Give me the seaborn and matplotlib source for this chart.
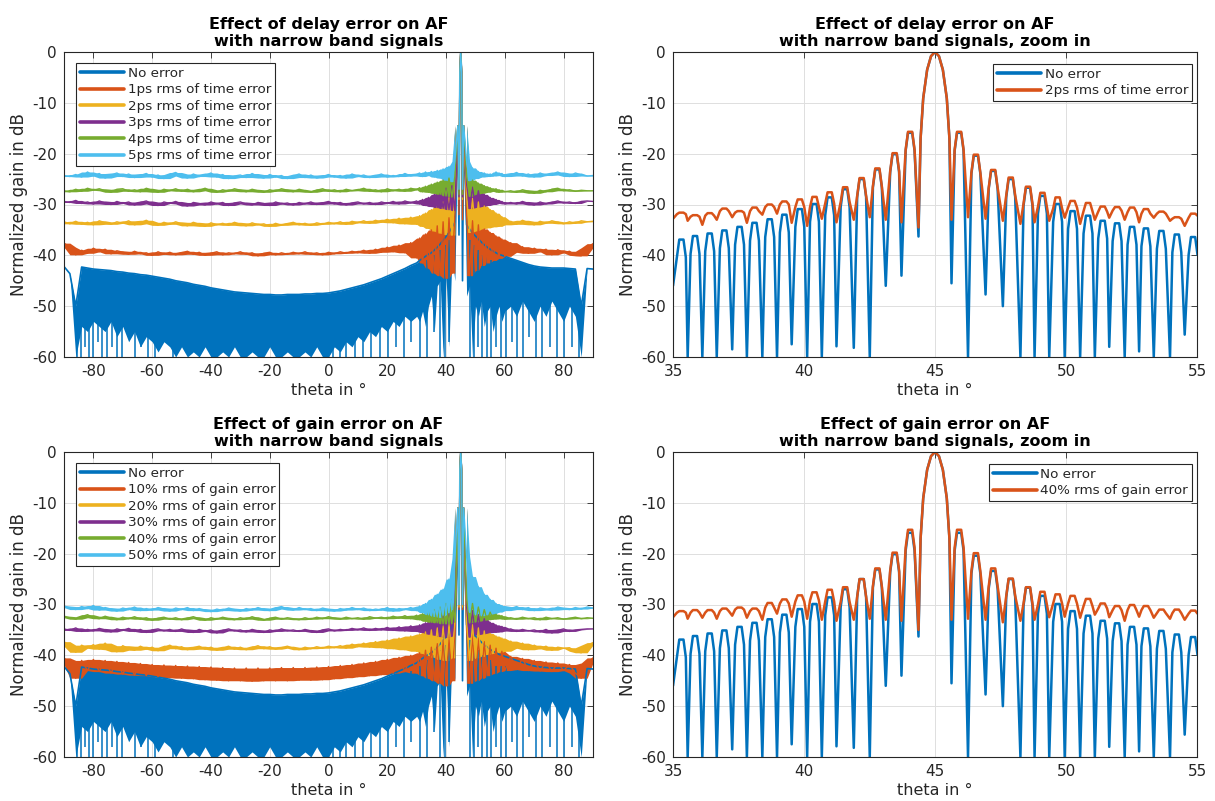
import matplotlib
matplotlib.use("Agg")
import matplotlib.pyplot as plt
import numpy as np
import pandas as pd
import seaborn as sns
from matplotlib.lines import Line2D

# ------------------------------------------------------------------ data
# sample angles of the full-range plots (deg)
theta_full = ([float(t) for t in range(-90, 30, 2)] + [float(t) for t in range(30, 44)]
              + [44.0, 44.4, 44.7, 45.0, 45.3, 45.6, 46.0]
              + [float(t) for t in range(47, 61)] + [float(t) for t in range(62, 91, 2)])

# "No error" pattern (full range): upper envelope and lower edge of the dense lobes
blue_full_hi = [
    -42.2, -43.6, -50.0, -42.3, -42.5, -42.7, -42.8, -42.9, -43.0, -43.2,
    -43.3, -43.5, -43.6, -43.8, -43.9, -44.1, -44.3, -44.5, -44.7, -45.0,
    -45.2, -45.4, -45.7, -45.9, -46.1, -46.4, -46.6, -46.8, -47.0, -47.2,
    -47.3, -47.4, -47.5, -47.6, -47.7, -47.7, -47.8, -47.8, -47.7, -47.7,
    -47.7, -47.6, -47.6, -47.5, -47.5, -47.4, -47.2, -47.0, -46.7, -46.4,
    -46.1, -45.8, -45.4, -45.0, -44.6, -44.1, -43.6, -43.1, -42.6, -42.0,
    -41.5, -41.0, -40.6, -40.2, -39.8, -39.5, -39.0, -38.4, -37.8, -37.0, -36.3, -35.5, -34.5, -33.5,
    -15.0, -36.0, -4.0, 0.0, -4.0, -45.0, -15.0,
    -34.0, -34.8, -35.6, -36.2, -36.8, -37.4, -37.9, -38.4, -38.8, -39.2, -39.5, -39.8, -40.0, -40.2,
    -40.6, -41.0, -41.4, -41.8, -42.1, -42.3, -42.4, -42.5, -42.5, -42.5, -42.6, -42.7, -50.0, -42.6, -42.7]
blue_full_lo = [
    -42.2, -43.6, -60, -54, -55, -53, -54, -55, -53, -56,
    -54, -57, -55, -58, -56, -57, -59, -57, -58, -60,
    -58, -60, -59, -60, -58, -60, -60, -59, -60, -58,
    -60, -60, -59, -60, -60, -58, -60, -60, -59, -60,
    -60, -59, -60, -58, -60, -60, -58, -59, -57, -58,
    -56, -57, -55, -56, -54, -55, -53, -54, -52, -53,
    -52, -53, -51, -54, -50, -48, -55, -46, -45, -60, -44, -58, -40, -45,
    -15.0, -36.0, -4.0, 0.0, -4.0, -45.0, -15.0,
    -48, -46, -60, -50, -52, -49, -54, -51, -50, -55, -52, -50, -53, -51,
    -50, -52, -49, -51, -53, -50, -52, -49, -51, -53, -50, -52, -60, -42.6, -42.7]
# deep nulls of the "No error" pattern visible in the full-range plots
spike_theta = [-85.7, -84.1, -82.9, -81.6, -80.2, -78.6, -77.1, -75.4, -73.8, -72.0, -70.2, -68.1,
               -66.0, -63.7, -61.4, -58.9, -56.0, -53.0,
               1.5, 3.8, 6.1, 8.9, 11.8, 14.6, 17.5, 20.3, 22.9, 25.6, 28.1, 31.0, 33.5, 36.0, 37.8,
               39.6, 41.1,
               48.3, 49.6, 50.9, 52.3, 53.8, 55.4, 57.0, 58.7, 60.5, 62.3, 64.2, 66.2, 68.3, 70.5,
               72.8, 75.2, 77.7, 80.3, 82.8, 85.3]
spike_top = [-50, -47, -47, -47, -47, -47, -48, -48, -48, -48, -48, -48,
             -49, -49, -49, -49, -50, -50,
             -50, -50, -50, -50, -49, -48, -47, -46, -45, -44, -43, -42, -41, -40, -39,
             -38, -37,
             -37, -38, -39, -40, -40, -41, -42, -42, -42, -43, -43, -44, -44, -44,
             -44, -44, -44, -44, -44, -50]
spike_bot = [-60, -60, -58, -60, -60, -57, -60, -60, -58, -60, -60, -56,
             -60, -58, -60, -60, -57, -60,
             -60, -60, -60, -60, -60, -60, -60, -60, -58, -60, -57, -60, -60, -55, -60,
             -60, -57,
             -60, -60, -58, -60, -60, -60, -58, -60, -60, -57, -60, -60, -56, -60,
             -60, -58, -60, -60, -58, -60]

# delay-error curves (full range)
delay_1ps = [
    -37.6, -38.4, -39.9, -39.0, -39.6, -38.6, -39.3, -38.8, -39.7, -39.1,
    -39.4, -39.8, -39.2, -39.7, -39.5, -40.0, -39.3, -39.8, -39.4, -39.9,
    -39.5, -39.2, -39.8, -39.4, -40.0, -39.6, -39.3, -39.9, -39.5, -39.7,
    -39.3, -39.8, -39.5, -40.1, -39.6, -39.4, -39.9, -39.5, -39.8, -39.4,
    -39.7, -39.3, -39.8, -39.5, -39.9, -39.4, -39.7, -39.3, -39.6, -39.2,
    -39.5, -39.0, -39.6, -38.8, -39.4, -38.4, -39.3, -38.0, -39.5, -37.5,
    -40.5, -36.6, -41.5, -35.8, -42.5, -35.0, -43.5, -34.2, -44.0, -33.4, -44.5, -32.6, -43.5, -32.0,
    -14.5, -32.0, -4.0, 0.0, -4.0, -33.0, -14.5,
    -32.2, -44.0, -33.2, -43.0, -34.0, -42.0, -34.8, -41.5, -35.5, -41.0, -36.2, -40.6, -36.8, -40.2,
    -37.5, -39.4, -38.3, -39.6, -38.6, -39.3, -38.8, -39.9, -38.9, -39.5, -39.2, -40.0, -40.1, -38.5, -37.7]
delay_2ps = [
    -33.4, -33.8, -33.3, -33.9, -33.5, -34.0, -33.2, -33.6, -33.9, -33.4,
    -33.7, -33.2, -34.0, -33.6, -33.1, -33.8, -34.1, -33.5, -33.9, -33.4,
    -33.8, -34.2, -33.5, -33.9, -34.3, -33.6, -34.0, -33.7, -34.1, -33.5,
    -33.9, -34.2, -33.6, -34.0, -33.8, -34.3, -33.7, -34.1, -33.8, -33.5,
    -34.0, -33.7, -34.1, -33.6, -33.9, -33.5, -33.8, -33.4, -33.9, -33.3,
    -33.6, -33.2, -33.7, -33.1, -33.5, -32.9, -33.6, -32.7, -33.8, -32.5,
    -33.9, -32.2, -34.3, -31.7, -34.7, -31.0, -35.2, -30.3, -35.6, -29.5, -35.9, -28.7, -36.0, -28.3,
    -14.5, -29.0, -4.0, 0.0, -4.0, -29.0, -14.5,
    -28.2, -35.5, -28.8, -35.2, -29.5, -34.8, -30.3, -34.6, -31.0, -34.4, -31.7, -34.3, -32.4, -34.0,
    -33.3, -33.9, -33.1, -33.6, -34.0, -33.3, -33.7, -33.2, -33.5, -33.8, -33.4, -33.7, -33.2, -33.4, -33.3]
delay_3ps = [
    -29.4, -29.6, -29.2, -29.8, -29.5, -29.9, -29.3, -29.7, -30.0, -29.4,
    -29.8, -29.5, -30.1, -29.6, -29.3, -29.9, -30.2, -29.5, -29.8, -29.4,
    -29.9, -30.3, -29.6, -29.8, -30.1, -29.5, -29.9, -29.6, -30.2, -29.7,
    -29.5, -29.9, -30.1, -29.6, -29.8, -30.2, -29.5, -29.9, -29.7, -30.1,
    -29.6, -29.9, -29.5, -30.0, -29.7, -29.4, -29.9, -29.6, -30.1, -29.7,
    -29.5, -29.9, -29.6, -30.0, -29.5, -29.8, -29.4, -29.9, -29.3, -29.7,
    -29.3, -29.9, -29.0, -30.2, -28.6, -30.4, -28.0, -30.6, -27.4, -30.8, -26.8, -31.0, -26.3, -31.2,
    -14.5, -28.5, -4.0, 0.0, -4.0, -28.5, -14.5,
    -26.0, -30.8, -26.6, -30.6, -27.3, -30.4, -28.0, -30.2, -28.6, -30.0, -29.0, -29.8, -29.4, -29.9,
    -29.6, -29.9, -29.4, -29.8, -30.1, -29.5, -29.9, -29.6, -29.3, -29.7, -29.5, -29.8, -29.4, -29.3, -29.4]
delay_4ps = [
    -27.3, -27.5, -27.0, -27.4, -26.8, -27.2, -26.9, -27.3, -27.6, -27.0,
    -26.9, -27.4, -27.1, -27.5, -26.8, -27.2, -27.6, -27.0, -27.3, -26.9,
    -27.4, -27.0, -27.5, -27.2, -26.8, -27.3, -27.6, -27.1, -27.4, -26.9,
    -27.2, -27.5, -27.0, -27.3, -27.6, -27.1, -27.4, -26.9, -27.2, -27.5,
    -27.0, -27.3, -27.6, -27.2, -26.9, -27.4, -27.1, -27.5, -27.0, -27.3,
    -27.2, -26.8, -27.4, -27.1, -27.5, -26.9, -27.3, -27.0, -27.4, -26.8,
    -27.1, -26.7, -27.5, -26.4, -27.6, -26.0, -27.8, -25.6, -28.0, -25.2, -28.3, -24.8, -28.5, -24.5,
    -14.5, -28.0, -4.0, 0.0, -4.0, -28.0, -14.5,
    -24.5, -28.4, -25.2, -28.0, -25.8, -27.8, -26.3, -27.6, -26.7, -27.4, -26.9, -27.6, -27.2, -27.5,
    -27.3, -27.6, -27.1, -27.4, -27.8, -27.2, -27.5, -27.0, -26.8, -27.3, -27.1, -27.4, -27.2, -27.3, -27.3]
delay_5ps = [
    -24.3, -24.5, -24.1, -24.6, -23.6, -24.4, -23.9, -24.8, -24.2, -23.8,
    -24.5, -24.0, -24.7, -24.3, -23.9, -24.6, -24.2, -24.9, -24.1, -23.7,
    -24.4, -24.8, -24.0, -24.5, -24.3, -23.8, -24.6, -24.1, -24.9, -24.4,
    -24.2, -24.7, -23.9, -24.5, -24.8, -24.1, -24.6, -24.3, -24.9, -24.4,
    -24.0, -24.7, -24.2, -24.8, -24.5, -24.1, -24.6, -24.3, -24.8, -24.0,
    -24.5, -24.2, -24.7, -24.4, -24.0, -24.6, -24.3, -24.5, -23.9, -24.4,
    -24.1, -23.8, -24.5, -23.6, -24.3, -23.5, -24.6, -23.3, -24.8, -23.0, -25.2, -22.5, -25.5, -21.5,
    -14.5, -27.0, -4.0, 0.0, -4.0, -27.0, -14.5,
    -21.5, -25.3, -22.8, -24.9, -23.5, -24.6, -23.8, -24.5, -24.0, -24.4, -23.6, -24.3, -23.9, -24.5,
    -24.2, -23.7, -24.4, -24.0, -24.6, -23.8, -24.3, -24.1, -23.6, -24.2, -24.5, -23.8, -24.2, -24.4, -24.3]

# gain-error curves (full range)
gain_10 = [
    -40.5, -41.8, -44.5, -41.0, -43.0, -40.8, -43.2, -41.0, -43.5, -41.2,
    -43.7, -41.4, -43.9, -41.6, -44.0, -41.8, -44.2, -41.9, -44.4, -42.0,
    -44.5, -42.1, -44.6, -42.2, -44.8, -42.3, -44.9, -42.4, -45.0, -42.5,
    -45.0, -42.5, -45.1, -42.5, -45.0, -42.5, -45.0, -42.4, -45.0, -42.4,
    -44.9, -42.4, -44.9, -42.3, -44.8, -42.2, -44.6, -42.0, -44.4, -41.8,
    -44.2, -41.5, -44.0, -41.2, -43.8, -40.8, -43.5, -40.4, -43.2, -40.0,
    -43.5, -39.5, -44.0, -39.0, -44.5, -38.4, -45.0, -37.7, -45.5, -37.0, -46.0, -36.2, -45.0, -35.5,
    -11.0, -31.0, -3.5, 0.0, -3.5, -31.0, -11.0,
    -35.0, -45.5, -35.8, -45.0, -36.6, -44.5, -37.3, -44.0, -38.0, -43.6, -38.6, -43.2, -39.2, -43.0,
    -40.2, -42.8, -40.6, -43.0, -41.0, -43.1, -41.3, -43.2, -41.5, -43.0, -41.8, -43.5, -44.5, -41.5, -40.5]
gain_20 = [
    -37.3, -38.2, -39.4, -38.0, -38.6, -37.9, -38.8, -37.6, -38.9, -39.3,
    -38.1, -38.7, -39.0, -38.2, -38.8, -38.4, -39.1, -38.5, -38.0, -38.7,
    -38.3, -38.9, -38.5, -38.2, -38.8, -38.4, -39.0, -38.6, -38.2, -38.8,
    -38.4, -38.9, -38.5, -38.1, -38.7, -38.3, -38.8, -38.5, -38.2, -38.6,
    -38.9, -38.4, -38.7, -38.3, -38.6, -38.2, -38.5, -38.1, -38.6, -37.8,
    -38.3, -37.6, -38.4, -37.3, -38.5, -37.0, -38.7, -36.6, -38.9, -36.2,
    -39.2, -35.8, -39.6, -35.4, -40.0, -35.0, -40.4, -34.6, -40.8, -34.2, -41.0, -33.8, -40.5, -33.3,
    -11.0, -30.5, -3.5, 0.0, -3.5, -30.5, -11.0,
    -33.5, -41.0, -34.0, -40.5, -34.6, -40.2, -35.2, -39.8, -35.7, -39.6, -36.2, -39.4, -36.6, -39.2,
    -37.2, -38.6, -37.6, -38.9, -38.0, -38.7, -38.2, -39.0, -38.4, -38.6, -38.5, -39.2, -39.5, -38.0, -37.5]
gain_30 = [
    -34.8, -35.1, -34.6, -35.3, -34.9, -35.2, -34.7, -35.0, -35.4, -34.8,
    -35.1, -34.7, -35.3, -34.9, -35.5, -35.0, -34.8, -35.2, -34.9, -35.3,
    -34.8, -35.2, -35.5, -34.9, -35.3, -35.0, -35.6, -35.1, -34.8, -35.2,
    -35.0, -35.4, -34.9, -35.2, -35.5, -35.0, -35.3, -34.8, -35.2, -35.0,
    -35.3, -34.9, -35.2, -35.5, -35.0, -34.8, -35.2, -34.9, -35.1, -34.7,
    -35.0, -34.6, -35.1, -34.7, -35.0, -34.5, -35.1, -34.4, -35.2, -34.2,
    -35.3, -34.0, -35.5, -33.6, -35.8, -33.2, -36.0, -32.8, -36.3, -32.3, -36.5, -31.8, -36.2, -31.0,
    -11.0, -30.0, -3.5, 0.0, -3.5, -30.0, -11.0,
    -30.5, -36.4, -31.2, -36.0, -32.0, -35.8, -32.8, -35.6, -33.5, -35.5, -34.0, -35.4, -34.3, -35.2,
    -34.8, -35.3, -34.9, -35.2, -35.0, -35.4, -34.9, -35.6, -35.1, -34.8, -35.3, -35.0, -34.9, -34.8, -34.8]
gain_40 = [
    -32.3, -32.6, -32.9, -32.4, -32.0, -32.6, -32.8, -32.3, -32.7, -33.0,
    -32.5, -32.8, -32.4, -32.9, -32.6, -33.1, -32.7, -32.5, -32.9, -32.6,
    -33.0, -32.7, -32.4, -32.8, -33.1, -32.6, -32.9, -32.5, -32.8, -33.0,
    -32.6, -32.9, -32.4, -32.8, -33.1, -32.7, -32.5, -32.9, -32.6, -32.8,
    -33.0, -32.6, -32.9, -32.5, -32.8, -32.4, -32.7, -32.9, -32.5, -32.8,
    -32.6, -32.9, -32.4, -32.7, -32.5, -32.8, -32.3, -32.7, -32.2, -32.8,
    -32.1, -33.0, -31.8, -33.3, -31.5, -33.5, -31.0, -33.6, -30.5, -33.8, -29.8, -33.8, -29.0, -33.5,
    -11.0, -30.0, -3.5, 0.0, -3.5, -30.0, -11.0,
    -29.0, -33.6, -29.8, -33.4, -30.5, -33.2, -31.0, -33.0, -31.5, -32.9, -31.9, -32.8, -32.2, -32.9,
    -32.6, -32.9, -32.5, -32.8, -32.6, -33.0, -32.5, -32.8, -32.6, -32.9, -32.7, -32.5, -32.8, -32.6, -32.7]
gain_50 = [
    -30.3, -30.6, -31.0, -30.4, -30.8, -30.2, -31.1, -30.6, -30.9, -31.3,
    -30.7, -31.0, -30.5, -31.2, -30.8, -31.1, -30.6, -30.9, -31.3, -30.7,
    -31.0, -30.6, -31.2, -30.8, -31.1, -31.4, -30.9, -31.2, -30.7, -31.0,
    -31.3, -30.8, -31.1, -30.6, -31.0, -31.2, -30.7, -30.4, -30.9, -31.1,
    -30.6, -31.0, -30.8, -31.2, -30.7, -31.0, -31.3, -30.8, -31.1, -30.6,
    -31.0, -30.7, -31.2, -30.9, -31.1, -30.6, -31.3, -30.8, -31.0, -30.6,
    -31.2, -30.3, -31.6, -29.8, -32.0, -29.0, -32.3, -28.0, -32.5, -27.0, -32.0, -25.0, -31.0, -21.0,
    -11.0, -30.0, -3.5, 0.0, -3.5, -30.0, -11.0,
    -20.5, -31.5, -24.5, -32.0, -26.5, -32.2, -28.0, -32.0, -29.0, -31.8, -29.8, -31.5, -30.2, -31.2,
    -30.8, -30.4, -31.0, -30.6, -31.2, -30.7, -30.9, -31.1, -30.5, -30.8, -31.0, -30.6, -30.9, -30.5, -30.7]

# zoom-in plots: sample angles (per lobe: null, two shoulders each side of the peak)
theta_zoom = [
    35.00, 35.15, 35.24, 35.40, 35.49,  35.56, 35.67, 35.76, 35.92, 36.01,
    36.12, 36.23, 36.32, 36.48, 36.57,  36.67, 36.79, 36.88, 37.04, 37.13,
    37.26, 37.37, 37.46, 37.62, 37.71,  37.82, 37.94, 38.03, 38.19, 38.28,
    38.41, 38.52, 38.61, 38.77, 38.86,  38.97, 39.08, 39.17, 39.33, 39.42,
    39.53, 39.67, 39.76, 39.92, 40.01,  40.12, 40.23, 40.32, 40.48, 40.57,
    40.68, 40.81, 40.90, 41.06, 41.15,  41.24, 41.40, 41.49, 41.65, 41.74,
    41.90, 42.03, 42.12, 42.28, 42.37,  42.51, 42.63, 42.72, 42.88, 42.97,
    43.12, 43.29, 43.38, 43.54, 43.63,  43.72, 43.88, 43.97, 44.13, 44.22,
    44.37, 44.45, 44.55, 44.70, 44.85, 45.00, 45.15, 45.30, 45.45, 45.55,
    45.63, 45.75, 45.84, 46.00, 46.09,  46.26, 46.39, 46.48, 46.64, 46.73,
    46.93, 47.05, 47.14, 47.30, 47.39,  47.59, 47.72, 47.81, 47.97, 48.06,
    48.26, 48.38, 48.47, 48.63, 48.72,  48.80, 48.93, 49.02, 49.18, 49.27,
    49.36, 49.51, 49.60, 49.76, 49.85,  49.95, 50.08, 50.17, 50.33, 50.42,
    50.54, 50.67, 50.76, 50.92, 51.01,  51.10, 51.23, 51.32, 51.48, 51.57,
    51.65, 51.78, 51.87, 52.03, 52.12,  52.24, 52.35, 52.44, 52.60, 52.69,
    52.79, 52.88, 52.97, 53.13, 53.22,  53.35, 53.47, 53.56, 53.72, 53.81,
    53.97, 54.06, 54.15, 54.31, 54.40,  54.53, 54.68, 54.77, 54.93, 55.02]
zoom_no_error = [
    -46.0, -40.4, -36.9, -36.9, -40.4,  -60.0, -39.7, -36.2, -36.2, -39.7,
    -60.0, -39.2, -35.7, -35.7, -39.2,  -60.0, -38.6, -35.1, -35.1, -38.6,
    -58.5, -37.9, -34.4, -34.4, -37.9,  -60.0, -37.1, -33.6, -33.6, -37.1,
    -60.0, -36.4, -32.9, -32.9, -36.4,  -60.0, -35.5, -32.0, -32.0, -35.5,
    -57.5, -34.4, -30.9, -30.9, -34.4,  -60.0, -33.4, -29.9, -29.9, -33.4,
    -60.0, -32.1, -28.6, -28.6, -32.1,  -57.9, -30.5, -27.0, -27.0, -30.5,
    -58.2, -28.5, -25.0, -25.0, -28.5,  -60.0, -26.6, -23.1, -23.1, -26.6,
    -46.0, -23.6, -20.1, -20.1, -23.6,  -44.0, -19.4, -15.9, -15.9, -19.4,
    -36.3, -17.0, -9.1, -3.5, -0.8, 0.0, -0.8, -3.5, -9.1, -17.0,
    -45.5, -19.4, -15.9, -15.9, -19.4,  -60.0, -23.9, -20.4, -20.4, -23.9,
    -47.7, -26.9, -23.4, -23.4, -26.9,  -50.0, -28.5, -25.0, -25.0, -28.5,
    -60.0, -30.2, -26.7, -26.7, -30.2,  -60.0, -31.8, -28.3, -28.3, -31.8,
    -60.0, -33.4, -29.9, -29.9, -33.4,  -60.0, -34.8, -31.3, -31.3, -34.8,
    -60.0, -35.7, -32.2, -32.2, -35.7,  -60.0, -36.7, -33.2, -33.2, -36.7,
    -58.0, -37.2, -33.7, -33.7, -37.2,  -60.0, -37.9, -34.4, -34.4, -37.9,
    -58.9, -38.2, -34.7, -34.7, -38.2,  -60.0, -38.7, -35.2, -35.2, -38.7,
    -60.0, -39.4, -35.9, -35.9, -39.4,  -55.6, -39.9, -36.4, -36.4, -39.9]
zoom_delay_2ps = [
    -32.8, -31.9, -31.6, -31.6, -31.9,  -33.2, -32.4, -32.1, -32.1, -32.4,
    -34.0, -32.2, -31.7, -31.7, -32.2,  -33.0, -31.3, -30.8, -30.8, -31.3,
    -32.5, -31.6, -31.3, -31.3, -31.6,  -33.6, -31.3, -30.6, -30.6, -31.3,
    -32.0, -30.5, -30.0, -30.0, -30.5,  -31.8, -30.0, -29.4, -29.4, -30.0,
    -33.6, -30.5, -29.0, -29.0, -30.5,  -34.2, -30.5, -28.5, -28.5, -30.5,
    -32.8, -29.8, -27.6, -27.6, -29.8,  -33.5, -29.5, -26.6, -26.6, -29.5,
    -33.0, -28.3, -24.8, -24.8, -28.3,  -32.5, -26.4, -22.9, -22.9, -26.4,
    -33.0, -23.4, -19.9, -19.9, -23.4,  -33.5, -19.2, -15.7, -15.7, -19.2,
    -34.5, -17.0, -9.1, -3.5, -0.8, 0.0, -0.8, -3.5, -9.1, -17.0,
    -33.0, -19.2, -15.7, -15.7, -19.2,  -32.5, -23.7, -20.2, -20.2, -23.7,
    -32.8, -26.7, -23.2, -23.2, -26.7,  -33.2, -28.2, -24.7, -24.7, -28.2,
    -33.8, -29.8, -26.5, -26.5, -29.8,  -33.5, -30.4, -27.7, -27.7, -30.4,
    -33.2, -30.8, -28.6, -28.6, -30.8,  -32.6, -30.6, -29.3, -29.3, -30.6,
    -33.8, -31.3, -29.7, -29.7, -31.3,  -33.0, -31.4, -30.4, -30.4, -31.4,
    -32.6, -31.2, -30.5, -30.5, -31.2,  -33.0, -31.5, -30.6, -30.6, -31.5,
    -33.5, -31.8, -30.9, -30.9, -31.8,  -32.6, -31.8, -31.4, -31.4, -31.8,
    -33.2, -32.8, -32.5, -32.5, -32.8,  -34.2, -32.6, -31.8, -31.8, -32.2]
zoom_gain_40 = [
    -32.5, -31.6, -31.3, -31.3, -31.6,  -32.8, -31.6, -31.1, -31.1, -31.6,
    -32.6, -31.6, -31.1, -31.1, -31.6,  -32.8, -31.3, -30.8, -30.8, -31.3,
    -32.2, -31.0, -30.6, -30.6, -31.0,  -32.6, -31.3, -30.8, -30.8, -31.3,
    -33.0, -30.6, -29.7, -29.7, -30.6,  -31.8, -29.8, -29.0, -29.0, -29.8,
    -32.4, -29.4, -28.2, -28.2, -29.4,  -32.8, -29.2, -27.6, -27.6, -29.2,
    -33.0, -29.4, -27.1, -27.1, -29.4,  -33.2, -29.5, -26.6, -26.6, -29.5,
    -33.0, -28.5, -25.0, -25.0, -28.5,  -32.8, -26.4, -22.9, -22.9, -26.4,
    -33.0, -23.3, -19.8, -19.8, -23.3,  -33.2, -18.8, -15.3, -15.3, -18.8,
    -35.0, -17.0, -9.1, -3.5, -0.8, 0.0, -0.8, -3.5, -9.1, -17.0,
    -33.0, -18.8, -15.3, -15.3, -18.8,  -32.8, -23.4, -19.9, -19.9, -23.4,
    -33.0, -26.4, -22.9, -22.9, -26.4,  -33.5, -28.3, -24.9, -24.9, -28.3,
    -33.2, -29.8, -26.6, -26.6, -29.8,  -33.0, -30.0, -27.5, -27.5, -30.0,
    -32.5, -29.8, -28.0, -28.0, -29.8,  -32.4, -29.8, -28.3, -28.3, -29.8,
    -32.6, -30.3, -28.9, -28.9, -30.3,  -32.0, -30.8, -29.8, -29.8, -30.8,
    -32.5, -31.1, -30.3, -30.3, -31.1,  -33.2, -31.1, -30.1, -30.1, -31.1,
    -32.4, -31.1, -30.3, -30.3, -31.1,  -32.6, -31.7, -31.0, -31.0, -31.7,
    -32.8, -31.7, -31.0, -31.0, -31.7,  -33.0, -31.8, -31.2, -31.2, -31.8]

delay_labels = ["No error", "1ps rms of time error", "2ps rms of time error",
                "3ps rms of time error", "4ps rms of time error", "5ps rms of time error"]
gain_labels = ["No error", "10% rms of gain error", "20% rms of gain error",
               "30% rms of gain error", "40% rms of gain error", "50% rms of gain error"]
zoom_delay_labels = ["No error", "2ps rms of time error"]
zoom_gain_labels = ["No error", "40% rms of gain error"]

for s in (blue_full_hi, blue_full_lo, delay_1ps, delay_2ps, delay_3ps, delay_4ps, delay_5ps,
          gain_10, gain_20, gain_30, gain_40, gain_50):
    assert len(s) == len(theta_full), len(s)
for s in (zoom_no_error, zoom_delay_2ps, zoom_gain_40):
    assert len(s) == len(theta_zoom), len(s)
assert len(spike_theta) == len(spike_top) == len(spike_bot)

# ------------------------------------------------------------------ style
sns.set_theme(style="white")
plt.rcParams["font.family"] = ["DejaVu Sans"]
plt.rcParams["axes.unicode_minus"] = False

COLORS = ["#0072BD", "#D95319", "#EDB120", "#7E2F8E", "#77AC30", "#4DBEEE"]
TXT = "#262626"

fig = plt.figure(figsize=(12.15, 8.01), dpi=100)
W, H = 1215.0, 801.0
AXW_L, AXW_R, AXH = 529.0, 524.0, 305.0
ax_tl = fig.add_axes([64 / W, 1 - 357 / H, AXW_L / W, AXH / H])
ax_tr = fig.add_axes([673 / W, 1 - 357 / H, AXW_R / W, AXH / H])
ax_bl = fig.add_axes([64 / W, 1 - 757 / H, AXW_L / W, AXH / H])
ax_br = fig.add_axes([673 / W, 1 - 757 / H, AXW_R / W, AXH / H])


def style(ax, xlim, xticks, title):
    ax.set_xlim(*xlim)
    ax.set_ylim(-60, 0)
    ax.set_xticks(xticks)
    ax.set_yticks(range(-60, 1, 10))
    ax.grid(True, color="#dedede", linewidth=0.7)
    ax.set_axisbelow(True)
    ax.tick_params(direction="in", top=True, right=True, length=4, width=0.6,
                   labelsize=11, colors=TXT, pad=5)
    for sp in ax.spines.values():
        sp.set_color(TXT)
        sp.set_linewidth(0.8)
    ax.set_title(title, fontsize=11.5, fontweight="bold", color="black", pad=4,
                 linespacing=1.2)
    ax.set_xlabel("theta in °", fontsize=11.5, color=TXT, labelpad=3)
    ax.set_ylabel("Normalized gain in dB", fontsize=12, color=TXT, labelpad=3)


def legend(ax, labels, loc, anchor, ncolors):
    handles = [Line2D([0], [0], color=COLORS[i], lw=2.6) for i in range(ncolors)]
    lg = ax.legend(handles, labels, loc=loc, bbox_to_anchor=anchor, frameon=True,
                   fancybox=False, edgecolor=TXT, framealpha=1, fontsize=9.7,
                   handlelength=3.3, handletextpad=0.25, labelspacing=0.26,
                   borderpad=0.28, borderaxespad=0.0)
    lg.get_frame().set_linewidth(0.8)
    for t in lg.get_texts():
        t.set_color(TXT)


def band(ax, values, color):
    # shade the envelope of the dense oscillation between neighbouring samples
    s = pd.Series(values)
    hi = s.rolling(3, center=True, min_periods=1).max().to_numpy()
    lo = s.rolling(3, center=True, min_periods=1).min().to_numpy()
    th = np.asarray(theta_full)
    for m in (th <= 43.0, th >= 47.0):
        ax.fill_between(th[m], lo[m], hi[m], color=color, lw=0)


def full_plot(ax, series, labels, title):
    ax.fill_between(theta_full, blue_full_lo, blue_full_hi, color=COLORS[0], lw=0)
    ax.vlines(spike_theta, spike_bot, spike_top, color=COLORS[0], lw=1.1)
    sns.lineplot(x=theta_full, y=blue_full_hi, ax=ax, color=COLORS[0], linewidth=1.2,
                 estimator=None, sort=False)
    for i, s in enumerate(series, start=1):
        band(ax, s, COLORS[i])
        sns.lineplot(x=theta_full, y=s, ax=ax, color=COLORS[i], linewidth=1.0,
                     estimator=None, sort=False)
    style(ax, (-90, 90), range(-80, 81, 20), title)
    legend(ax, labels, "upper left", (12 / AXW_L, 1 - 11 / AXH), 6)


def zoom_plot(ax, series, labels, title):
    sns.lineplot(x=theta_zoom, y=zoom_no_error, ax=ax, color=COLORS[0], linewidth=1.8,
                 estimator=None, sort=False)
    sns.lineplot(x=theta_zoom, y=series, ax=ax, color=COLORS[1], linewidth=1.8,
                 estimator=None, sort=False)
    style(ax, (35, 55), [35, 40, 45, 50, 55], title)
    legend(ax, labels, "upper right", (1 - 5 / AXW_R, 1 - 12 / AXH), 2)


full_plot(ax_tl, [delay_1ps, delay_2ps, delay_3ps, delay_4ps, delay_5ps], delay_labels,
          "Effect of delay error on AF\nwith narrow band signals")
zoom_plot(ax_tr, zoom_delay_2ps, zoom_delay_labels,
          "Effect of delay error on AF\nwith narrow band signals, zoom in")
full_plot(ax_bl, [gain_10, gain_20, gain_30, gain_40, gain_50], gain_labels,
          "Effect of gain error on AF\nwith narrow band signals")
zoom_plot(ax_br, zoom_gain_40, zoom_gain_labels,
          "Effect of gain error on AF\nwith narrow band signals, zoom in")

fig.savefig("out.png", dpi=100)
